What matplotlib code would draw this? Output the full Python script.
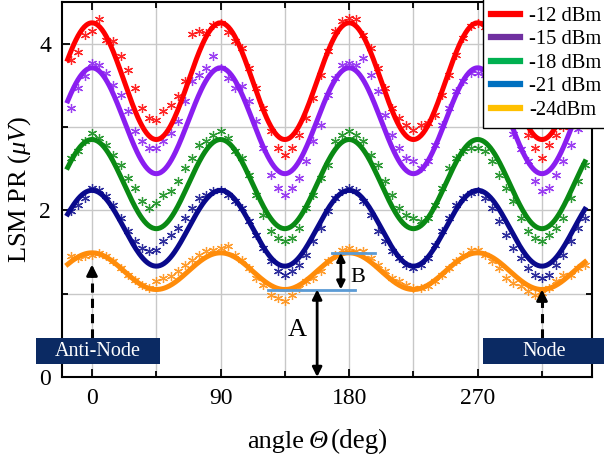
import numpy as np
import matplotlib
matplotlib.use('Agg')
import matplotlib.pyplot as plt
from matplotlib.lines import Line2D
from matplotlib.patches import Rectangle
from matplotlib.ticker import MultipleLocator

plt.rcParams['font.family'] = ['Liberation Serif', 'DejaVu Serif']
plt.rcParams['mathtext.fontset'] = 'custom'
plt.rcParams['mathtext.rm'] = 'Liberation Serif'
plt.rcParams['mathtext.it'] = 'Liberation Serif:italic'

# measured LSM photoresponse (uV) vs rotation angle, every 5 deg
angle = np.arange(-15, 350, 5)

pr_12 = [3.80, 3.90, 4.10, 4.15, 4.30, 4.05, 4.03, 3.85, 3.68, 3.47, 3.23, 3.11, 3.08,
         3.19, 3.27, 3.37, 3.55, 4.12, 4.15, 4.13, 4.23, 4.25, 4.14, 4.03, 3.95, 3.71,
         3.47, 3.23, 2.95, 2.75, 2.67, 2.75, 2.91, 3.11, 3.35, 3.63, 3.91, 4.15, 4.27,
         4.31, 4.30, 4.11, 3.95, 3.71, 3.47, 3.23, 3.11, 3.03, 2.97, 3.02, 3.05, 3.15,
         3.39, 3.63, 3.87, 4.07, 4.21, 4.25, 4.20, 4.08, 3.90, 3.66, 3.42, 3.18, 2.91,
         2.75, 2.63, 2.79, 2.91, 3.00, 3.10, 3.35, 3.60]
pr_15 = [3.23, 3.47, 3.61, 3.77, 3.75, 3.65, 3.51, 3.39, 3.19, 2.95, 2.83, 2.75, 2.75,
         2.83, 2.93, 3.07, 3.31, 3.55, 3.63, 3.71, 3.85, 3.71, 3.59, 3.47, 3.49, 3.31,
         3.07, 2.75, 2.43, 2.27, 2.19, 2.27, 2.39, 2.59, 2.83, 3.03, 3.39, 3.59, 3.75,
         3.77, 3.75, 3.83, 3.63, 3.43, 3.15, 2.91, 2.75, 2.63, 2.59, 2.51, 2.59, 2.79,
         3.03, 3.23, 3.43, 3.55, 3.65, 3.65, 3.62, 3.52, 3.36, 3.16, 2.92, 2.74, 2.59,
         2.35, 2.23, 2.27, 2.43, 2.59, 2.79, 2.98, 3.20]
pr_18 = [2.63, 2.71, 2.83, 2.93, 2.87, 2.79, 2.67, 2.55, 2.39, 2.27, 2.11, 2.03, 2.09,
         2.19, 2.23, 2.35, 2.51, 2.63, 2.79, 2.83, 2.91, 2.95, 2.87, 2.71, 2.63, 2.43,
         2.19, 1.95, 1.75, 1.67, 1.63, 1.67, 1.79, 2.03, 2.19, 2.39, 2.55, 2.83, 2.91,
         2.95, 2.91, 2.83, 2.67, 2.55, 2.35, 2.19, 2.03, 1.95, 1.91, 1.87, 1.91, 2.07,
         2.27, 2.51, 2.63, 2.71, 2.75, 2.75, 2.71, 2.59, 2.43, 2.27, 2.11, 1.91, 1.75,
         1.67, 1.63, 1.71, 1.79, 1.91, 2.15, 2.35, 2.55]
pr_21 = [1.99, 2.07, 2.15, 2.27, 2.25, 2.17, 2.07, 1.91, 1.75, 1.63, 1.55, 1.51, 1.53,
         1.63, 1.71, 1.79, 1.91, 2.03, 2.15, 2.19, 2.23, 2.25, 2.19, 2.11, 2.03, 1.87,
         1.71, 1.55, 1.39, 1.27, 1.23, 1.27, 1.35, 1.47, 1.63, 1.79, 1.99, 2.15, 2.23,
         2.27, 2.23, 2.11, 1.95, 1.75, 1.63, 1.51, 1.43, 1.35, 1.31, 1.35, 1.43, 1.59,
         1.75, 1.91, 2.07, 2.15, 2.21, 2.23, 2.15, 2.03, 1.87, 1.71, 1.55, 1.43, 1.31,
         1.23, 1.19, 1.23, 1.35, 1.47, 1.63, 1.79, 1.91]
pr_24 = [1.45, 1.43, 1.45, 1.47, 1.49, 1.45, 1.39, 1.31, 1.23, 1.17, 1.11, 1.07, 1.15,
         1.19, 1.21, 1.27, 1.35, 1.41, 1.47, 1.51, 1.53, 1.55, 1.57, 1.47, 1.41, 1.31,
         1.19, 1.11, 0.99, 0.95, 0.91, 0.99, 1.07, 1.15, 1.19, 1.27, 1.39, 1.47, 1.53,
         1.55, 1.51, 1.51, 1.43, 1.35, 1.27, 1.19, 1.15, 1.11, 1.07, 1.07, 1.09, 1.15,
         1.23, 1.31, 1.39, 1.47, 1.53, 1.53, 1.47, 1.39, 1.31, 1.19, 1.13, 1.09, 1.03,
         0.99, 1.01, 1.07, 1.15, 1.23, 1.23, 1.31, 1.35]

# cos(4*theta) fits: offset and amplitude per power
fit_offset = [3.55, 3.075, 2.315, 1.785, 1.27]
fit_amp = [0.70, 0.635, 0.535, 0.455, 0.22]

labels = ['-12 dBm', '-15 dBm', '-18 dBm', '-21 dBm', '-24dBm']
data_colors = ['#ff0000', '#8a1ef0', '#0a8a14', '#0a0a8c', '#ff8c0a']
legend_colors = ['#ff0000', '#7030a0', '#00b050', '#0070c0', '#ffc000']

series = [pr_12, pr_15, pr_18, pr_21, pr_24]

fig = plt.figure(figsize=(6.04, 4.59), dpi=100)
ax = fig.add_axes([62 / 604, 82 / 459, 530 / 604, 375 / 459])

theta = np.linspace(-17, 345, 500)
for vals, m, a, c in zip(series, fit_offset, fit_amp, data_colors):
    ax.plot(angle, vals, linestyle='none', marker=(6, 2, 0), markersize=6.5,
            markeredgewidth=0.9, color=c, alpha=0.85, zorder=2)
    ax.plot(theta, m + a * np.cos(np.radians(4 * theta)), color=c, lw=3.6, zorder=3)

# A / B markers on the -24 dBm curve
low = fit_offset[4] - fit_amp[4]
high = fit_offset[4] + fit_amp[4]
ax.plot([123, 184], [low, low], color='#5b9bd5', lw=2, zorder=4)
ax.plot([168, 198], [high, high], color='#5b9bd5', lw=2, zorder=4)
ax.annotate('', xy=(157.6, 0), xytext=(157.6, low),
            arrowprops=dict(arrowstyle='<|-|>', color='k', lw=2, mutation_scale=14,
                            shrinkA=0, shrinkB=0), zorder=5)
ax.annotate('', xy=(174.2, low), xytext=(174.2, high),
            arrowprops=dict(arrowstyle='<|-|>', color='k', lw=2, mutation_scale=12,
                            shrinkA=0, shrinkB=0), zorder=5)
ax.text(143.6, 0.56, 'A', fontsize=19, ha='center', va='center')
ax.text(186, 1.20, 'B', fontsize=16, ha='center', va='center')

# anti-node / node pointers
for x0, y_top in [(0, 1.35), (315, 1.05)]:
    ax.plot([x0, x0], [0.47, y_top - 0.12], color='k', lw=2.2, linestyle=(0, (3, 2)), zorder=5)
    ax.annotate('', xy=(x0, y_top), xytext=(x0, y_top - 0.14),
                arrowprops=dict(arrowstyle='-|>', color='k', lw=2, mutation_scale=16,
                                shrinkA=0, shrinkB=0), zorder=5)

box_color = '#0b2a63'
ax.add_patch(Rectangle((-39.2, 0.156), 86.8, 0.312, facecolor=box_color,
                       edgecolor='none', clip_on=False, zorder=6))
ax.text(4.2, 0.31, 'Anti-Node', color='white', fontsize=14.5, ha='center', va='center',
        zorder=7, clip_on=False)
ax.add_patch(Rectangle((273.9, 0.156), 90, 0.312, facecolor=box_color,
                       edgecolor='none', clip_on=False, zorder=6))
ax.text(316.5, 0.31, 'Node', color='white', fontsize=14.5, ha='center', va='center',
        zorder=7, clip_on=False)

ax.set_xlim(-21, 350)
ax.set_ylim(0, 4.5)
ax.xaxis.set_major_locator(MultipleLocator(90))
ax.xaxis.set_minor_locator(MultipleLocator(45))
ax.yaxis.set_major_locator(MultipleLocator(2))
ax.yaxis.set_minor_locator(MultipleLocator(1))
ax.grid(True, which='both', color='#c8c8c8', lw=1, zorder=0)
ax.set_axisbelow(True)
ax.tick_params(which='both', direction='in', top=True, right=True, labelsize=17, width=1.3)
ax.tick_params(which='major', length=6, pad=8)
ax.tick_params(which='minor', length=4)
for s in ax.spines.values():
    s.set_linewidth(1.5)

# x label in three pieces so the theta can be italic
ylab = 11 / 459
fig.text(304 / 604, ylab, 'angle', fontsize=19, ha='right', va='baseline')
fig.text(318 / 604, ylab, 'Θ', fontsize=19, style='italic', ha='center', va='baseline')
fig.text(331 / 604, ylab, '(deg)', fontsize=19.5, ha='left', va='baseline')
ax.set_ylabel(r'LSM PR ($\mathit{\mu V}$)', fontsize=19, labelpad=4)

handles = [Line2D([], [], color=c, lw=4.5) for c in legend_colors]
fig.legend(handles, labels, loc='upper left', bbox_to_anchor=(483 / 604, 1.004),
           borderaxespad=0, fontsize=14.8, frameon=True, fancybox=False, edgecolor='k',
           framealpha=1, handlelength=1.4, handletextpad=0.45, labelspacing=0.2,
           borderpad=0.4)

fig.savefig('out.png', dpi=100)
